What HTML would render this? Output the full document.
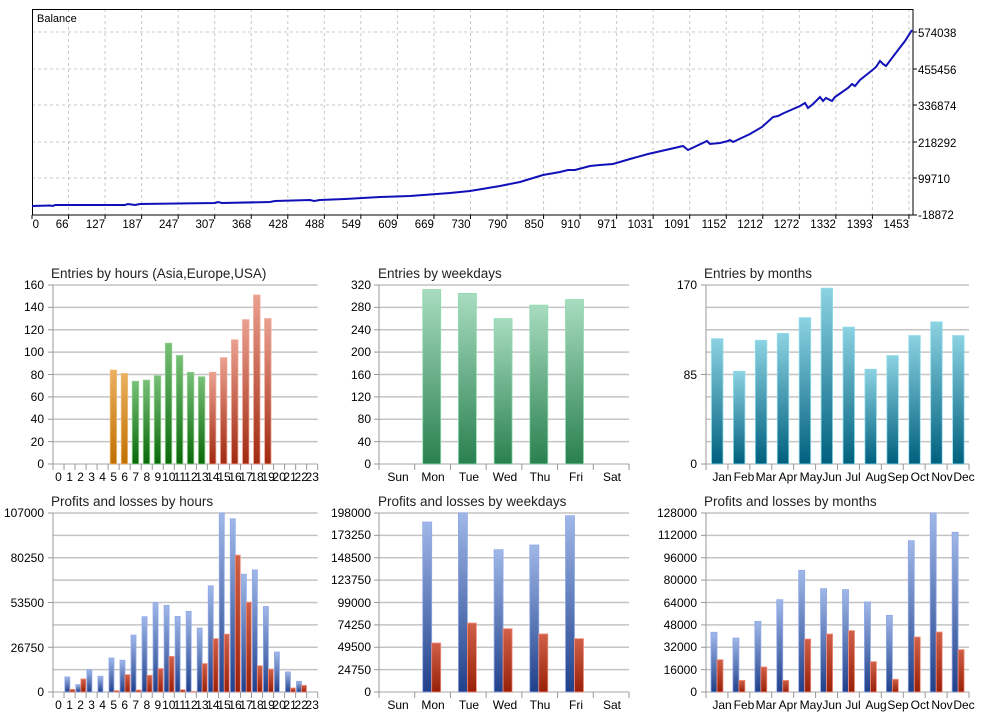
<!DOCTYPE html>
<html><head><meta charset="utf-8"><style>
body{margin:0;background:#fff}
svg{display:block}
text{font-family:"Liberation Sans",Arial,sans-serif;fill:#000}
.t{font-size:13.5px;fill:#222}
.a{font-size:12px;fill:#222}
.b{font-size:11.5px}
</style></head><body>
<svg id="s" width="996" height="720" viewBox="0 0 996 720" xmlns="http://www.w3.org/2000/svg">
<defs>
<linearGradient id="gOr" x1="0" y1="0" x2="0" y2="1"><stop offset="0" stop-color="#eab060"/><stop offset="1" stop-color="#c07000"/></linearGradient>
<linearGradient id="gGr" x1="0" y1="0" x2="0" y2="1"><stop offset="0" stop-color="#78c078"/><stop offset="1" stop-color="#086808"/></linearGradient>
<linearGradient id="gRd" x1="0" y1="0" x2="0" y2="1"><stop offset="0" stop-color="#eaa090"/><stop offset="1" stop-color="#a02a10"/></linearGradient>
<linearGradient id="gWk" x1="0" y1="0" x2="0" y2="1"><stop offset="0" stop-color="#a8dcc0"/><stop offset="1" stop-color="#2a8050"/></linearGradient>
<linearGradient id="gMo" x1="0" y1="0" x2="0" y2="1"><stop offset="0" stop-color="#8cd2e2"/><stop offset="1" stop-color="#00607e"/></linearGradient>
<linearGradient id="gBl" x1="0" y1="0" x2="0" y2="1"><stop offset="0" stop-color="#a0b8e8"/><stop offset="1" stop-color="#20408a"/></linearGradient>
<linearGradient id="gRe" x1="0" y1="0" x2="0" y2="1"><stop offset="0" stop-color="#d06048"/><stop offset="1" stop-color="#982008"/></linearGradient>
</defs>
<g id="shapes"></g>
<text x="37" y="22" style="font-size:11px">Balance</text>
<g class="b" style="font-size:11.5px">
<text x="918" y="37">574038</text><text x="918" y="74">455456</text><text x="918" y="110">336874</text><text x="918" y="147">218292</text><text x="918" y="183">99710</text><text x="918" y="219">-18872</text>
</g>
<g id="bx" style="font-size:11.5px" text-anchor="end">
<text x="39" y="228">0</text><text x="68.5" y="228">66</text><text x="105.1" y="228">127</text><text x="141.6" y="228">187</text><text x="178.2" y="228">247</text><text x="214.7" y="228">307</text><text x="251.2" y="228">368</text><text x="287.8" y="228">428</text><text x="324.3" y="228">488</text><text x="360.9" y="228">549</text><text x="397.4" y="228">609</text><text x="433.9" y="228">669</text><text x="470.5" y="228">730</text><text x="507" y="228">790</text><text x="543.6" y="228">850</text><text x="580.1" y="228">910</text><text x="616.6" y="228">971</text><text x="653.2" y="228">1031</text><text x="689.7" y="228">1091</text><text x="726.3" y="228">1152</text><text x="762.8" y="228">1212</text><text x="799.3" y="228">1272</text><text x="835.9" y="228">1332</text><text x="872.4" y="228">1393</text><text x="909" y="228">1453</text>
</g>
<text class="t" x="51" y="278">Entries by hours (Asia,Europe,USA)</text>
<text class="t" x="378" y="278">Entries by weekdays</text>
<text class="t" x="704" y="278">Entries by months</text>
<text class="t" x="51" y="506">Profits and losses by hours</text>
<text class="t" x="378" y="506">Profits and losses by weekdays</text>
<text class="t" x="704" y="506">Profits and losses by months</text>
<g class="a" text-anchor="end">
<text x="44" y="468">0</text><text x="44" y="446">20</text><text x="44" y="423">40</text><text x="44" y="401">60</text><text x="44" y="379">80</text><text x="44" y="356">100</text><text x="44" y="334">120</text><text x="44" y="311">140</text><text x="44" y="289">160</text>
<text x="371" y="468">0</text><text x="371" y="446">40</text><text x="371" y="423">80</text><text x="371" y="401">120</text><text x="371" y="379">160</text><text x="371" y="356">200</text><text x="371" y="334">240</text><text x="371" y="311">280</text><text x="371" y="289">320</text>
<text x="697" y="468">0</text><text x="697" y="379">85</text><text x="697" y="289">170</text>
<text x="44" y="696">0</text><text x="44" y="652">26750</text><text x="44" y="607">53500</text><text x="44" y="562">80250</text><text x="44" y="517">107000</text>
<text x="371" y="696">0</text><text x="371" y="674">24750</text><text x="371" y="651">49500</text><text x="371" y="629">74250</text><text x="371" y="607">99000</text><text x="371" y="584">123750</text><text x="371" y="562">148500</text><text x="371" y="539">173250</text><text x="371" y="517">198000</text>
<text x="697" y="696">0</text><text x="697" y="674">16000</text><text x="697" y="651">32000</text><text x="697" y="629">48000</text><text x="697" y="607">64000</text><text x="697" y="584">80000</text><text x="697" y="562">96000</text><text x="697" y="539">112000</text><text x="697" y="517">128000</text>
</g>
<g class="a" text-anchor="middle">
<g><text x="58.5" y="481">0</text><text x="69.6" y="481">1</text><text x="80.6" y="481">2</text><text x="91.6" y="481">3</text><text x="102.6" y="481">4</text><text x="113.7" y="481">5</text><text x="124.7" y="481">6</text><text x="135.7" y="481">7</text><text x="146.8" y="481">8</text><text x="157.8" y="481">9</text><text x="168.8" y="481">10</text><text x="179.8" y="481">11</text><text x="190.9" y="481">12</text><text x="201.9" y="481">13</text><text x="212.9" y="481">14</text><text x="224" y="481">15</text><text x="235" y="481">16</text><text x="246" y="481">17</text><text x="257" y="481">18</text><text x="268.1" y="481">19</text><text x="279.1" y="481">20</text><text x="290.1" y="481">21</text><text x="301.2" y="481">22</text><text x="312.2" y="481">23</text></g>
<g transform="translate(0,228)"><text x="58.5" y="481">0</text><text x="69.6" y="481">1</text><text x="80.6" y="481">2</text><text x="91.6" y="481">3</text><text x="102.6" y="481">4</text><text x="113.7" y="481">5</text><text x="124.7" y="481">6</text><text x="135.7" y="481">7</text><text x="146.8" y="481">8</text><text x="157.8" y="481">9</text><text x="168.8" y="481">10</text><text x="179.8" y="481">11</text><text x="190.9" y="481">12</text><text x="201.9" y="481">13</text><text x="212.9" y="481">14</text><text x="224" y="481">15</text><text x="235" y="481">16</text><text x="246" y="481">17</text><text x="257" y="481">18</text><text x="268.1" y="481">19</text><text x="279.1" y="481">20</text><text x="290.1" y="481">21</text><text x="301.2" y="481">22</text><text x="312.2" y="481">23</text></g>
<g><text x="398" y="481">Sun</text><text x="433" y="481">Mon</text><text x="469" y="481">Tue</text><text x="505" y="481">Wed</text><text x="540" y="481">Thu</text><text x="576" y="481">Fri</text><text x="612" y="481">Sat</text></g>
<g transform="translate(0,228)"><text x="398" y="481">Sun</text><text x="433" y="481">Mon</text><text x="469" y="481">Tue</text><text x="505" y="481">Wed</text><text x="540" y="481">Thu</text><text x="576" y="481">Fri</text><text x="612" y="481">Sat</text></g>
<g><text x="722" y="481">Jan</text><text x="744" y="481">Feb</text><text x="766" y="481">Mar</text><text x="788" y="481">Apr</text><text x="811" y="481">May</text><text x="832" y="481">Jun</text><text x="853" y="481">Jul</text><text x="876" y="481">Aug</text><text x="898" y="481">Sep</text><text x="920" y="481">Oct</text><text x="942" y="481">Nov</text><text x="964" y="481">Dec</text></g>
<g transform="translate(0,228)"><text x="722" y="481">Jan</text><text x="744" y="481">Feb</text><text x="766" y="481">Mar</text><text x="788" y="481">Apr</text><text x="811" y="481">May</text><text x="832" y="481">Jun</text><text x="853" y="481">Jul</text><text x="876" y="481">Aug</text><text x="898" y="481">Sep</text><text x="920" y="481">Oct</text><text x="942" y="481">Nov</text><text x="964" y="481">Dec</text></g>
</g>
</svg>
<script>
var g=document.getElementById('shapes'),NS='http://www.w3.org/2000/svg';
function el(t,a){var e=document.createElementNS(NS,t);for(var k in a)e.setAttribute(k,a[k]);g.appendChild(e);return e;}
for(var i=1;i<=24;i++){var x=32+36.54*i;el('line',{x1:x,y1:9,x2:x,y2:215,stroke:'#c8c8c8','stroke-dasharray':'3,3'});}
[32,69,105,142,178].forEach(function(y){el('line',{x1:32,y1:y,x2:913,y2:y,stroke:'#c8c8c8','stroke-dasharray':'3,3'});});
for(var i=0;i<=24;i++){var x=32+36.54*i;el('line',{x1:x,y1:215,x2:x,y2:219,stroke:'#000'});}
[32,69,105,142,178,215].forEach(function(y){el('line',{x1:913,y1:y,x2:917,y2:y,stroke:'#000'});});
el('rect',{x:32.5,y:9.5,width:880.5,height:205.5,fill:'none',stroke:'#000'});
var pts=[[32,206],[50,205.5],[53,206],[55,205],[125,205],[128,204],[135,205],[140,204],[215,203],[218,202],[222,203],[270,202],[275,201],[310,200],[314,201],[320,200],[345,199],[380,197],[410,196],[450,193],[470,191],[500,186],[520,182],[543,175],[560,172],[568,170],[575,170],[590,166],[600,165],[613,164],[630,159],[648,154],[670,149],[683,146],[688,150],[707,141],[710,144],[720,143],[728,141],[730,140],[733,142],[750,134],[762,127],[773,117],[778,116],[784,113],[800,106],[805,103],[808,108],[813,104],[820,97],[823,101],[826,98],[832,101],[835,97],[848,88],[852,84],[855,86],[860,80],[870,72],[876,67],[880,61],[883,64],[886,66],[895,54],[905,41],[912,30]];
el('polyline',{points:pts.map(function(p){return p.join(',')}).join(' '),fill:'none',stroke:'#1010b8','stroke-width':2});
function panel(L,R,T,B,n,lines,labeled){
  for(var i=0;i<=lines;i++){var y=B-(B-T)*i/lines;el('line',{x1:L,y1:y,x2:R,y2:y,stroke:'#c4c4c4','stroke-width':1.4});}
  el('line',{x1:L,y1:T,x2:L,y2:B+6,stroke:'#999'});
  labeled.forEach(function(i){var y=B-(B-T)*i/lines;el('line',{x1:L-5,y1:y,x2:L,y2:y,stroke:'#999'});});
  var w=(R-L)/n;for(var i=1;i<=n;i++){var x=L+w*i;el('line',{x1:x,y1:B,x2:x,y2:B+6,stroke:'#999'});}
}
function bar(x,w,v,max,T,B,fill,st){var h=(B-T)*v/max;if(h<=0)return;el('rect',{x:x,y:B-h,width:w,height:h,fill:fill,stroke:st,'stroke-width':0.8});}
panel(53,317.7,285,464,24,8,[0,1,2,3,4,5,6,7,8]);
var he={5:84,6:81,7:74,8:75,9:79,10:108,11:97,12:82,13:78,14:82,15:95,16:111,17:129,18:151,19:130};
for(var h in he){var c=h<7?'url(#gOr)':h<14?'url(#gGr)':'url(#gRd)';var s=h<7?'#f0c080':h<14?'#90d090':'#f0a898';bar(53+11.03*h+2,6.5,he[h],160,285,464,c,s);}
panel(379,629,285,464,7,8,[0,1,2,3,4,5,6,7,8]);
[0,312,305,260,284,294,0].forEach(function(v,i){bar(379+35.7*i+8,18,v,320,285,464,'url(#gWk)','#90dcb0');});
panel(706,969,285,464,12,8,[0,4,8]);
[119,88,117.5,124,139,167,130,90,103,122,135,122].forEach(function(v,i){bar(706+21.92*i+5.5,11.5,v,170,285,464,'url(#gMo)','#90dcea');});
panel(53,317.7,513,692,24,8,[0,2,4,6,8]);
var bl=[0,9000,4400,13300,9400,20300,19000,34000,45000,53500,51800,45200,48200,38200,63500,107000,103500,70400,73000,51100,23900,12000,6400,0];
var rd=[0,1600,7800,0,0,800,10400,1200,10000,14000,21300,1400,400,17000,31900,34600,81800,53700,15700,13700,0,2400,4000,0];
for(var i=0;i<24;i++){bar(53+11.03*i+0.8,5,bl[i],107000,513,692,'url(#gBl)','#90a8e8');bar(53+11.03*i+5.8,5,rd[i],107000,513,692,'url(#gRe)','#f09080');}
panel(379,629,513,692,7,8,[0,1,2,3,4,5,6,7,8]);
var wb=[0,188000,198000,157400,162600,195000,0],wr=[0,54200,76300,70000,64200,59000,0];
for(var i=0;i<7;i++){bar(379+35.7*i+8,9,wb[i],198000,513,692,'url(#gBl)','#90a8e8');bar(379+35.7*i+17,9,wr[i],198000,513,692,'url(#gRe)','#f09080');}
panel(706,969,513,692,12,8,[0,1,2,3,4,5,6,7,8]);
var mb=[42700,38600,50500,66000,87000,73900,73200,64400,54800,108200,128000,114200],mr=[23100,8300,17900,8300,37900,41500,43900,21700,9100,39300,42900,30300];
for(var i=0;i<12;i++){bar(706+21.92*i+5,6,mb[i],128000,513,692,'url(#gBl)','#90a8e8');bar(706+21.92*i+11,6,mr[i],128000,513,692,'url(#gRe)','#f09080');}
</script>
</body></html>
